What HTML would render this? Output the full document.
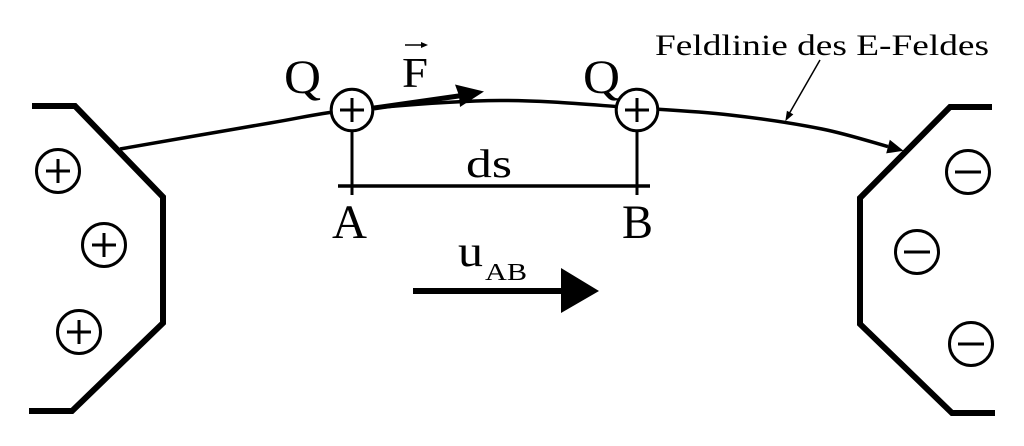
<!DOCTYPE html>
<html><head><meta charset="utf-8"><style>
html,body{margin:0;padding:0;background:#fff;}
svg{display:block;}
text{font-family:"Liberation Serif","Times New Roman",Times,serif;fill:#000;}
</style></head><body>
<svg width="1024" height="446" viewBox="0 0 1024 446" xmlns="http://www.w3.org/2000/svg">
<rect width="1024" height="446" fill="#fff"/>
<!-- electrodes -->
<polyline points="32,106 75,106 163,197 163,323 72,411 29,411" fill="none" stroke="#000" stroke-width="6" stroke-linejoin="miter"/>
<polyline points="992,107 950,107 860,198 860,324 952,413 995,413" fill="none" stroke="#000" stroke-width="6" stroke-linejoin="miter"/>
<!-- field line -->
<path d="M120,149 C145,144.7 231.3,129.5 270,123 C308.7,116.5 313.7,113.75 352,110 C390.3,106.25 452.5,100.8 500,100.5 C547.5,100.2 598.7,105.6 637,108 C675.3,110.4 699.2,111.5 730,115 C760.8,118.5 795.7,123.7 822,129 C848.3,134.3 877,143.7 888,146.6" fill="none" stroke="#000" stroke-width="3.5"/>
<polygon points="903.5,150.7 889.8,139.8 886.2,153.4" fill="#000"/>
<!-- leader line -->
<line x1="820" y1="60" x2="789" y2="114" stroke="#000" stroke-width="1.5"/>
<polygon points="786,120 792.5,114.5 787.3,111.5" fill="#000" stroke="#000" stroke-width="1"/>
<!-- force arrow -->
<line x1="374" y1="108" x2="462" y2="95.5" stroke="#000" stroke-width="5"/>
<polygon points="484,91.5 455,84.5 459,95.5 460,107" fill="#000"/>
<!-- vertical and ds lines -->
<line x1="352" y1="130" x2="352" y2="195" stroke="#000" stroke-width="3"/>
<line x1="637" y1="130" x2="637" y2="195" stroke="#000" stroke-width="3"/>
<line x1="338" y1="186" x2="650" y2="186" stroke="#000" stroke-width="3.5"/>
<!-- charges on line -->
<g stroke="#000" stroke-width="3" fill="#fff">
<circle cx="352" cy="110" r="20.8"/>
<circle cx="637" cy="110" r="20.8"/>
</g>
<g stroke="#000" stroke-width="3">
<line x1="340" y1="110" x2="364" y2="110"/><line x1="352" y1="98" x2="352" y2="122"/>
<line x1="625" y1="110" x2="649" y2="110"/><line x1="637" y1="98" x2="637" y2="122"/>
</g>
<!-- electrode charges -->
<g stroke="#000" stroke-width="3" fill="#fff">
<circle cx="58" cy="171" r="21.5"/>
<circle cx="104" cy="245" r="21.5"/>
<circle cx="79" cy="332" r="21.5"/>
<circle cx="968" cy="172" r="21.5"/>
<circle cx="917" cy="252" r="21.5"/>
<circle cx="971" cy="344" r="21.5"/>
</g>
<g stroke="#000" stroke-width="3">
<line x1="46" y1="171" x2="70" y2="171"/><line x1="58" y1="159" x2="58" y2="183"/>
<line x1="92" y1="245" x2="116" y2="245"/><line x1="104" y1="233" x2="104" y2="257"/>
<line x1="67" y1="332" x2="91" y2="332"/><line x1="79" y1="320" x2="79" y2="344"/>
<line x1="955" y1="172" x2="981" y2="172"/>
<line x1="904" y1="252" x2="930" y2="252"/>
<line x1="958" y1="344" x2="984" y2="344"/>
</g>
<!-- u_AB arrow -->
<line x1="413" y1="291" x2="564" y2="291" stroke="#000" stroke-width="6"/>
<polygon points="561,268 599,291 561,313" fill="#000"/>
<!-- vector arrow over F -->
<line x1="405" y1="45" x2="424" y2="45" stroke="#000" stroke-width="1.5"/>
<polygon points="428,45 421,42 421,48" fill="#000"/>
<!-- text -->
<text x="284" y="93" font-size="48" textLength="37" lengthAdjust="spacingAndGlyphs">Q</text>
<text x="583" y="93" font-size="48" textLength="37" lengthAdjust="spacingAndGlyphs">Q</text>
<text x="402" y="87" font-size="42" textLength="26" lengthAdjust="spacingAndGlyphs">F</text>
<text x="466" y="177" font-size="40" textLength="46" lengthAdjust="spacingAndGlyphs">ds</text>
<text x="332" y="238" font-size="48" textLength="35" lengthAdjust="spacingAndGlyphs">A</text>
<text x="622" y="238" font-size="48" textLength="31" lengthAdjust="spacingAndGlyphs">B</text>
<text x="458" y="266" font-size="44" textLength="25" lengthAdjust="spacingAndGlyphs">u</text>
<text x="485" y="280" font-size="24" textLength="42" lengthAdjust="spacingAndGlyphs">AB</text>
<text x="655" y="55" font-size="30" textLength="334" lengthAdjust="spacingAndGlyphs">Feldlinie des E-Feldes</text>
</svg>
</body></html>
